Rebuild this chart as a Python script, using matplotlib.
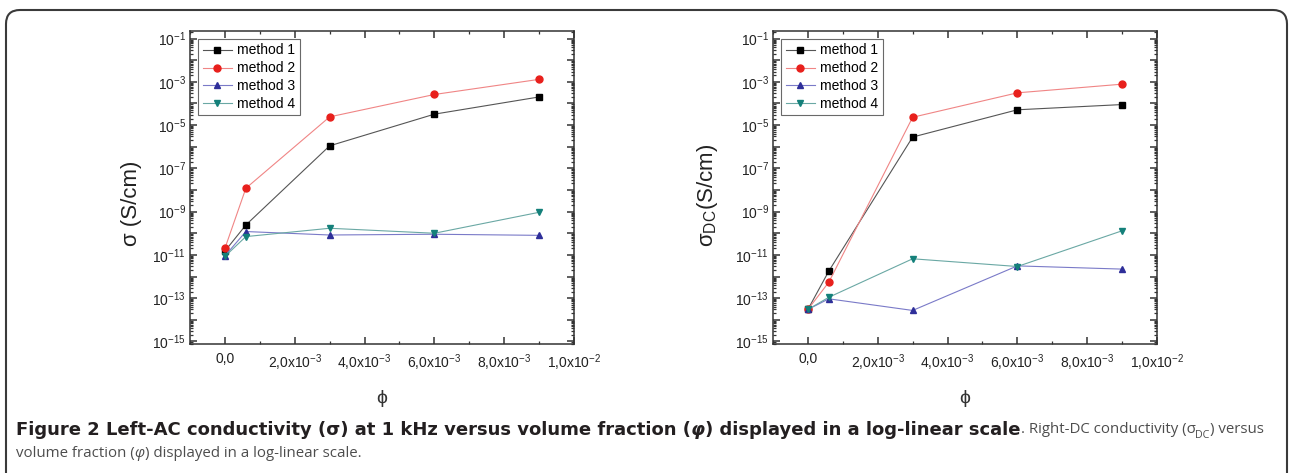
import numpy as np
import matplotlib

matplotlib.use("Agg")
import matplotlib.pyplot as plt
from matplotlib.patches import FancyBboxPatch
from matplotlib.transforms import IdentityTransform
from matplotlib.ticker import FixedLocator, FuncFormatter, LogLocator

# volume fraction
phi = [0.0, 0.0006, 0.003, 0.006, 0.009]

# AC conductivity at 1 kHz (S/cm)
ac_m1 = [1.5e-11, 2.4e-10, 1.1e-6, 3.2e-5, 2.0e-4]
ac_m2 = [2.0e-11, 1.2e-8, 2.4e-5, 2.6e-4, 1.3e-3]
ac_m3 = [9e-12, 1.2e-10, 8.3e-11, 9e-11, 8e-11]
ac_m4 = [8.5e-12, 7e-11, 1.7e-10, 1e-10, 9.3e-10]

# DC conductivity (S/cm)
dc_m1 = [3e-14, 1.8e-12, 2.8e-6, 5.1e-5, 8.9e-5]
dc_m2 = [3e-14, 5.5e-13, 2.3e-5, 3.1e-4, 7.8e-4]
dc_m3 = [3e-14, 9.3e-14, 2.7e-14, 3.1e-12, 2.2e-12]
dc_m4 = [3e-14, 1.1e-13, 6.6e-12, 2.9e-12, 1.3e-10]

labels = ["method 1", "method 2", "method 3", "method 4"]
x_ticks = [0.0, 0.002, 0.004, 0.006, 0.008, 0.010]

plt.rcParams["font.family"] = ["Liberation Sans", "DejaVu Sans"]
plt.rcParams["mathtext.fontset"] = "custom"
plt.rcParams["mathtext.rm"] = "Liberation Sans"
plt.rcParams["mathtext.it"] = "Liberation Sans:italic"
plt.rcParams["mathtext.bf"] = "Liberation Sans:bold"
plt.rcParams["mathtext.default"] = "regular"

styles = [
    dict(marker="s", mfc="#000000", mec="#000000", color="#555555"),
    dict(marker="o", mfc="#e8201c", mec="#e8201c", color="#f08585"),
    dict(marker="^", mfc="#2e2e99", mec="#2e2e99", color="#7a7ac8"),
    dict(marker="v", mfc="#14807a", mec="#14807a", color="#6aa8a4"),
]


def fmt_x(v, pos):
    if abs(v) < 1e-12:
        return "0,0"
    e = int(np.floor(np.log10(abs(v)) + 1e-9))
    m = v / 10 ** e
    return f"{m:.1f}".replace(".", ",") + "x10$^{" + str(e) + "}$"


def fmt_y(v, pos):
    e = int(round(np.log10(v)))
    if e % 2 == 0:
        return ""
    return "10$^{" + str(e) + "}$"


W, H = 1289, 473
fig = plt.figure(figsize=(W / 100, H / 100), dpi=100)

ax_top, ax_bot = 31, 344


def make_axes(left, right):
    return fig.add_axes([left / W, 1 - ax_bot / H, (right - left) / W, (ax_bot - ax_top) / H])


def style_axes(ax, series):
    for vals, lab, st in zip(series, labels, styles):
        ax.plot(phi, vals, label=lab, linewidth=0.8, markersize=5, **st)
    ax.set_yscale("log")
    ax.set_xlim(-0.001, 0.01)
    ax.set_ylim(10 ** -15.12, 10 ** -0.65)
    ax.xaxis.set_major_locator(FixedLocator(x_ticks))
    ax.xaxis.set_minor_locator(FixedLocator(np.arange(-0.001, 0.0101, 0.001)))
    ax.xaxis.set_major_formatter(FuncFormatter(fmt_x))
    ax.yaxis.set_major_locator(LogLocator(base=10, numticks=30))
    ax.yaxis.set_minor_locator(LogLocator(base=10, subs=np.arange(2, 10), numticks=30))
    ax.yaxis.set_major_formatter(FuncFormatter(fmt_y))
    ax.yaxis.set_minor_formatter(FuncFormatter(lambda v, p: ""))
    ax.tick_params(which="both", direction="in", top=True, right=True, colors="#333333",
                   labelcolor="#222222", labelsize=10)
    ax.tick_params(which="major", length=5, width=1.1)
    ax.tick_params(which="minor", length=2.5, width=0.9)
    ax.tick_params(axis="x", pad=6)
    ax.tick_params(axis="y", pad=3)
    for sp in ax.spines.values():
        sp.set_color("#333333")
        sp.set_linewidth(1.1)
    leg = ax.legend(loc="upper left", fontsize=10, frameon=True, fancybox=False,
                    edgecolor="#444444", handlelength=2.1, borderaxespad=0.6,
                    labelspacing=0.28, borderpad=0.3, handletextpad=0.4)
    leg.get_frame().set_linewidth(0.8)
    ax.set_xlabel("ϕ", fontsize=14, va="center", color="#333333")
    ax.xaxis.set_label_coords(0.5, -(398 - ax_bot) / (ax_bot - ax_top))


ax1 = make_axes(190, 574)
style_axes(ax1, [ac_m1, ac_m2, ac_m3, ac_m4])
ax1.set_ylabel("σ (S/cm)", fontsize=16, va="center", color="#222222")
ax1.yaxis.set_label_coords(-58 / 384, (ax_bot - 203) / (ax_bot - ax_top))

ax2 = make_axes(773, 1157)
style_axes(ax2, [dc_m1, dc_m2, dc_m3, dc_m4])
ax2.set_ylabel("σ$_{DC}$(S/cm)", fontsize=16, va="center", color="#222222")
ax2.yaxis.set_label_coords(-66 / 384, (ax_bot - 195) / (ax_bot - ax_top))

# rounded frame around the figure
frame = FancyBboxPatch((6, -40), 1281, H - 10 + 40, boxstyle="round,pad=0,rounding_size=14",
                       transform=IdentityTransform(), facecolor="none",
                       edgecolor="#3a3a3a", linewidth=1.5)
fig.add_artist(frame)

# caption
cap = fig.add_axes([0, 0, 1, 1])
cap.axis("off")
cap.set_xlim(0, 1)
cap.set_ylim(0, 1)
bfam = ["DejaVu Sans", "Open Sans"]
rfam = ["Open Sans", "DejaVu Sans"]
bs = 13.0
rs = 10.8
dark = "#231f20"
grey = "#4d4d4d"

bold_pieces = [
    ("Figure 2 Left-AC conductivity (σ) at 1 kHz versus volume fraction (", "normal"),
    ("φ", "italic"),
    (") displayed in a log-linear scale", "normal"),
]
prev = cap.text(16 / W, 1 - 435 / H, bold_pieces[0][0], fontsize=bs, family=bfam,
                weight="bold", color=dark, va="baseline", ha="left")
for txt, stl in bold_pieces[1:]:
    prev = cap.annotate(txt, xy=(1, 0), xycoords=prev, va="bottom", ha="left",
                        fontsize=bs, family=bfam, weight="bold", style=stl, color=dark)
bold_end = prev
sig = cap.annotate(". Right-DC conductivity (σ", xy=(1, 0), xycoords=bold_end,
                   xytext=(0, 1.2), textcoords="offset points", va="bottom", ha="left",
                   fontsize=rs, family=rfam, color=grey)
sub = cap.annotate("DC", xy=(1, 0), xycoords=sig, xytext=(0, -2.3), textcoords="offset points",
                   va="bottom", ha="left", fontsize=rs * 0.72, family=rfam, color=grey)
cap.annotate(") versus", xy=(1, 0), xycoords=(sub, sig), va="bottom", ha="left",
             fontsize=rs, family=rfam, color=grey)

prev = cap.text(16 / W, 1 - 457 / H, "volume fraction (", fontsize=rs, family=rfam,
                color=grey, va="baseline", ha="left")
prev = cap.annotate("φ", xy=(1, 0), xycoords=prev, va="bottom", ha="left",
                    fontsize=rs, family=rfam, style="italic", color=grey)
cap.annotate(") displayed in a log-linear scale.", xy=(1, 0), xycoords=prev, va="bottom",
             ha="left", fontsize=rs, family=rfam, color=grey)

fig.savefig("out.png", dpi=100, facecolor="white")
